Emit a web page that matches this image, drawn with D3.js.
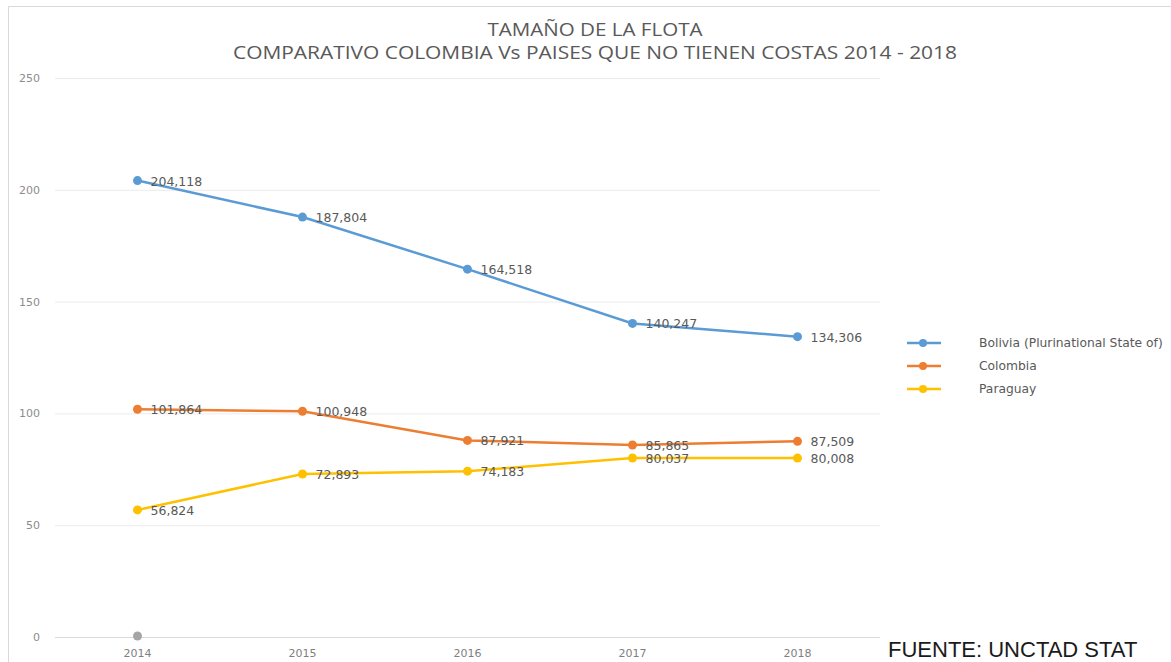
<!DOCTYPE html>
<html>
<head>
<meta charset="utf-8">
<title></title>
<style type="text/css">
  body { margin: 0; background: #fff; }
</style>
</head>
<body>
<div class="container"></div>
<script src="https://d3js.org/d3.v7.min.js"></script>
<script type="text/javascript">
var wd = 1171
var ht = 662

// data (thousands)
var years = ["2014", "2015", "2016", "2017", "2018"]
var bolivia = [204.118, 187.804, 164.518, 140.247, 134.306]
var colombia = [101.864, 100.948, 87.921, 85.865, 87.509]
var paraguay = [56.824, 72.893, 74.183, 80.037, 80.008]
var extra = [0] // grey point at 2014
var yTicks = [0, 50, 100, 150, 200, 250]

var series = [
  {name: "Bolivia (Plurinational State of)", vals: bolivia, col: "#5b9bd5"},
  {name: "Colombia", vals: colombia, col: "#ed7d31"},
  {name: "Paraguay", vals: paraguay, col: "#ffc000"}
]

var svg = d3.select(".container").append("svg")
  .attr("width", wd)
  .attr("height", ht)

// chart border
svg.append("path")
  .attr("d", "M8.5," + ht + " L8.5,6.5 L" + wd + ",6.5")
  .attr("fill", "none")
  .attr("stroke", "#d9d9d9")

var x = d3.scaleBand().domain(years).range([55, 880])
var y = d3.scaleLinear().domain([0, 250]).range([637, 78])
var cx = function(i) { return x(years[i]) + x.bandwidth() / 2 }

// gridlines
svg.append("g").selectAll("line")
  .data(yTicks)
  .join("line")
  .attr("x1", 55).attr("x2", 880)
  .attr("y1", function(d) { return y(d) + 0.5 })
  .attr("y2", function(d) { return y(d) + 0.5 })
  .attr("stroke", function(d) { return d == 0 ? "#d9d9d9" : "#ececec" })

// y labels
svg.append("g").selectAll("text")
  .data(yTicks)
  .join("text")
  .attr("x", 40)
  .attr("y", function(d) { return y(d) + 4 })
  .attr("text-anchor", "end")
  .style("font-family", "DejaVu Sans")
  .style("font-size", "11px")
  .attr("fill", "#8c8c8c")
  .text(function(d) { return d })

// x labels
svg.append("g").selectAll("text")
  .data(years)
  .join("text")
  .attr("x", function(d) { return x(d) + x.bandwidth() / 2 })
  .attr("y", 657)
  .attr("text-anchor", "middle")
  .style("font-family", "DejaVu Sans")
  .style("font-size", "11px")
  .attr("fill", "#7f7f7f")
  .text(function(d) { return d })

var line = d3.line()
  .x(function(d, i) { return cx(i) })
  .y(function(d) { return y(d) })

series.forEach(function(s) {
  svg.append("path")
    .attr("d", line(s.vals))
    .attr("fill", "none")
    .attr("stroke", s.col)
    .attr("stroke-width", 2.5)

  svg.append("g").selectAll("circle")
    .data(s.vals)
    .join("circle")
    .attr("cx", function(d, i) { return cx(i) })
    .attr("cy", function(d) { return y(d) })
    .attr("r", 4.5)
    .attr("fill", s.col)

  svg.append("g").selectAll("text")
    .data(s.vals)
    .join("text")
    .attr("x", function(d, i) { return cx(i) + 13 })
    .attr("y", function(d) { return y(d) + 5 })
    .style("font-family", "DejaVu Sans")
    .style("font-size", "12.5px")
    .attr("fill", "#595959")
    .text(function(d) { return d3.format(",")(Math.round(d * 1000)) })
})

// grey point
svg.append("g").selectAll("circle")
  .data(extra)
  .join("circle")
  .attr("cx", function(d, i) { return cx(i) })
  .attr("cy", function(d) { return y(d) - 1 })
  .attr("r", 4.5)
  .attr("fill", "#a5a5a5")

// title
svg.append("text")
  .attr("x", 595).attr("y", 36)
  .attr("text-anchor", "middle")
  .style("font-family", "Open Sans")
  .style("font-size", "18px")
  .attr("textLength", 215)
  .attr("lengthAdjust", "spacingAndGlyphs")
  .attr("fill", "#595959")
  .text("TAMAÑO DE LA FLOTA")
svg.append("text")
  .attr("x", 595).attr("y", 59)
  .attr("text-anchor", "middle")
  .style("font-family", "Open Sans")
  .style("font-size", "18px")
  .attr("textLength", 724)
  .attr("lengthAdjust", "spacingAndGlyphs")
  .attr("fill", "#595959")
  .text("COMPARATIVO COLOMBIA Vs PAISES QUE NO TIENEN COSTAS 2014 - 2018")

// legend
var leg = svg.append("g").selectAll("g")
  .data(series)
  .join("g")
  .attr("transform", function(d, i) { return "translate(907," + (343 + i * 23) + ")" })
leg.append("line")
  .attr("x1", 0).attr("x2", 34)
  .attr("stroke", function(d) { return d.col })
  .attr("stroke-width", 2.5)
leg.append("circle")
  .attr("cx", 16).attr("r", 4)
  .attr("fill", function(d) { return d.col })
leg.append("text")
  .attr("x", 72).attr("y", 4)
  .style("font-family", "DejaVu Sans")
  .style("font-size", "12.3px")
  .attr("fill", "#595959")
  .text(function(d) { return d.name })

// source
svg.append("text")
  .attr("x", 888).attr("y", 657)
  .style("font-family", "Liberation Sans")
  .style("font-size", "22px")
  .attr("fill", "#1a1a1a")
  .text("FUENTE: UNCTAD STAT")
</script>
</body>
</html>
